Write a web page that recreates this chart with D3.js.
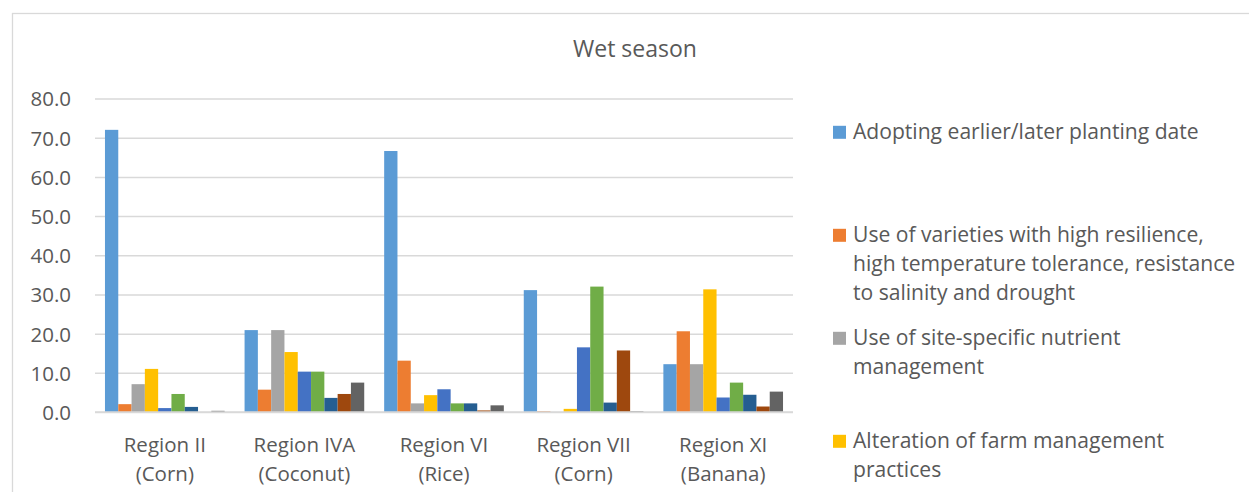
<!DOCTYPE html>
<html>
<head>
<meta charset="utf-8">
<script src="https://cdn.jsdelivr.net/npm/d3@7"></script>
<style>
  html, body { margin: 0; padding: 0; background: #fff; overflow: hidden; }
  text { font-family: "Open Sans", sans-serif; fill: #595959; }
</style>
</head>
<body>
<svg id="chart"></svg>
<script>
// categories (two lines each)
const categories = [
    ['Region II', '(Corn)'],
    ['Region IVA', '(Coconut)'],
    ['Region VI', '(Rice)'],
    ['Region VII', '(Corn)'],
    ['Region XI', '(Banana)']
];

// one array per adaptation practice, same order as categories
const s1 = [72.0, 20.9, 66.6, 31.1, 12.2];
const s2 = [2.0, 5.7, 13.1, 0.2, 20.6];
const s3 = [7.1, 20.9, 2.2, 0.0, 12.2];
const s4 = [11.0, 15.3, 4.3, 0.8, 31.3];
const s5 = [1.0, 10.3, 5.8, 16.5, 3.7];
const s6 = [4.6, 10.3, 2.2, 32.0, 7.5];
const s7 = [1.3, 3.6, 2.2, 2.4, 4.4];
const s8 = [0.0, 4.6, 0.4, 15.7, 1.4];
const s9 = [0.3, 7.5, 1.7, 0.2, 5.2];
const seriesValues = [s1, s2, s3, s4, s5, s6, s7, s8, s9];

const seriesColors = ['#5B9BD5', '#ED7D31', '#A5A5A5', '#FFC000', '#4472C4',
                      '#70AD47', '#255E91', '#9E480E', '#636363'];

// legend labels that fit in the visible frame
const legendLabels = [
    ['Adopting earlier/later planting date'],
    ['Use of varieties with high resilience,', 'high temperature tolerance, resistance', 'to salinity and drought'],
    ['Use of site-specific nutrient', 'management'],
    ['Alteration of farm management', 'practices']
];

const yTicks = [0, 10, 20, 30, 40, 50, 60, 70, 80];
const titleText = 'Wet season';

var width = 1249,
    height = 492,
    plotLeft = 95,
    plotRight = 793,
    plotTop = 98.5,
    plotBottom = 412,
    gridColor = '#D9D9D9',
    fontSize = 20.5,
    legendFontSize = 21.1;

var svg = d3.select('#chart')
    .attr('width', width)
    .attr('height', height);

// chart frame
svg.append('rect')
    .attr('x', 12.5)
    .attr('y', 13.5)
    .attr('width', width)
    .attr('height', height)
    .attr('fill', '#fff')
    .attr('stroke', gridColor)
    .attr('stroke-width', 1.3);

// title
svg.append('text')
    .attr('x', 635)
    .attr('y', 57)
    .attr('text-anchor', 'middle')
    .style('font-size', '23px')
    .text(titleText);

const y = d3.scaleLinear()
    .domain([0, 80])
    .range([plotBottom, plotTop]);

const x0 = d3.scaleBand()
    .domain(d3.range(categories.length))
    .range([plotLeft, plotRight]);

var gap = x0.bandwidth() / (seriesValues.length + 1.5) * 1.5;

const x1 = d3.scaleBand()
    .domain(d3.range(seriesValues.length))
    .range([gap / 2, x0.bandwidth() - gap / 2]);

// gridlines + tick labels
var yAxis = d3.axisLeft(y)
    .tickValues(yTicks)
    .tickSize(-(plotRight - plotLeft))
    .tickPadding(24)
    .tickFormat(d3.format('.1f'));

var gy = svg.append('g')
    .attr('transform', 'translate(' + plotLeft + ',0)')
    .call(yAxis);

gy.select('.domain').remove();
gy.selectAll('.tick line')
    .attr('stroke', gridColor)
    .attr('stroke-width', 1.5);
gy.selectAll('.tick text')
    .attr('x', 71 - plotLeft)
    .attr('dy', '0.36em')
    .style('font-size', fontSize + 'px')
    .style('font-family', '"Open Sans", sans-serif')
    .attr('fill', '#595959');

// bars
seriesValues.forEach(function (values, si) {
    svg.append('g')
        .selectAll('rect')
        .data(values)
        .join('rect')
        .attr('x', (d, ci) => x0(ci) + x1(si))
        .attr('y', d => y(d))
        .attr('width', x1.bandwidth())
        .attr('height', d => y(0) - y(d))
        .attr('fill', seriesColors[si]);
});

// baseline
svg.append('line')
    .attr('x1', plotLeft)
    .attr('x2', plotRight)
    .attr('y1', y(0))
    .attr('y2', y(0))
    .attr('stroke', gridColor)
    .attr('stroke-width', 1.5);

// category labels
categories.forEach(function (lines, ci) {
    var t = svg.append('text')
        .attr('text-anchor', 'middle')
        .style('font-size', fontSize + 'px');
    lines.forEach(function (line, li) {
        t.append('tspan')
            .attr('x', x0(ci) + x0.bandwidth() / 2)
            .attr('y', 452 + li * 29)
            .text(line);
    });
});

// legend
var legendX = 833,
    legendTop = 139.3,
    legendStep = 103,
    lineHeight = 29;

legendLabels.forEach(function (lines, i) {
    var baseY = legendTop + i * legendStep;
    svg.append('rect')
        .attr('x', legendX)
        .attr('y', baseY - 13.5)
        .attr('width', 13)
        .attr('height', 13)
        .attr('fill', seriesColors[i]);

    var t = svg.append('text')
        .style('font-size', legendFontSize + 'px');
    lines.forEach(function (line, li) {
        t.append('tspan')
            .attr('x', legendX + 20)
            .attr('y', baseY + li * lineHeight)
            .text(line);
    });
});
</script>
</body>
</html>
